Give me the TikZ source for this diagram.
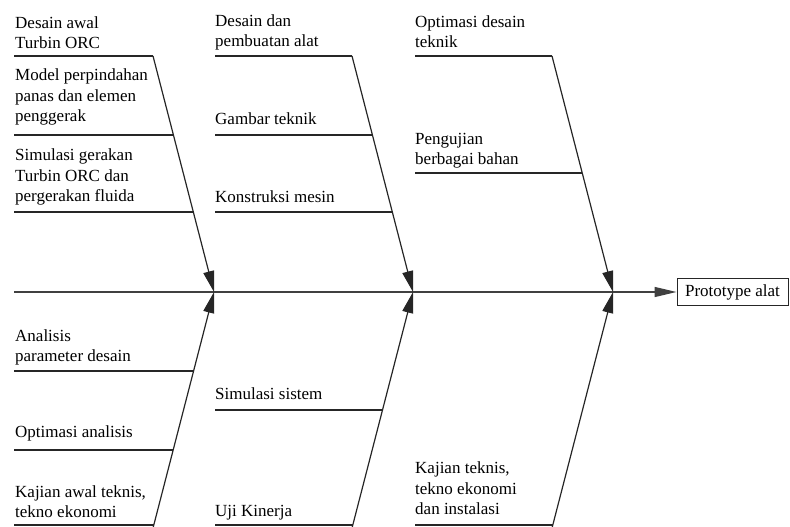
\documentclass[tikz,border=0pt]{standalone}
\usepackage{fontspec}
\setmainfont{Liberation Serif}
\usetikzlibrary{arrows.meta}
\begin{document}
\begin{tikzpicture}[x=1pt,y=-1pt,
  lbl/.style={anchor=south west, inner sep=0pt, align=left, font=\fontsize{17}{20.5}\selectfont},
  rib/.style={draw=black!85, line width=1.3pt},
  bone/.style={draw=black!85, line width=1.2pt, -{Triangle[length=21pt,width=11pt]}},
  spine/.style={draw=black!75, line width=1.4pt, -{Triangle[length=22pt,width=10pt]}},
  outbox/.style={draw=black!85, line width=1pt, minimum width=111pt, minimum height=27pt, inner sep=0pt, font=\fontsize{17}{20.5}\selectfont}]
\useasboundingbox (0,0) rectangle (790,527);

% bone end points
\coordinate (t1) at (153,56);  \coordinate (h1) at (214,292); \coordinate (u1) at (152.5,530);
\coordinate (t2) at (352,56);  \coordinate (h2) at (413,292); \coordinate (u2) at (351.5,530);
\coordinate (t3) at (552,56);  \coordinate (h3) at (613,292); \coordinate (u3) at (551.5,530);

% rib coordinates
\coordinate (a1) at (14,56);
\coordinate (a2) at (14,135);  \coordinate (e2) at (173.5,135);
\coordinate (a3) at (14,212);  \coordinate (e3) at (193.5,212);
\coordinate (a4) at (215,56);
\coordinate (a5) at (215,135); \coordinate (e5) at (372.5,135);
\coordinate (a6) at (215,212); \coordinate (e6) at (392.5,212);
\coordinate (a7) at (415,56);
\coordinate (a8) at (415,173); \coordinate (e8) at (582.4,173);
\coordinate (a9) at (14,371);  \coordinate (e9) at (193.7,371);
\coordinate (a10) at (14,450); \coordinate (e10) at (173.2,450);
\coordinate (a11) at (14,525); \coordinate (e11) at (153.7,525);
\coordinate (a12) at (215,410); \coordinate (e12) at (382.6,410);
\coordinate (a13) at (215,525); \coordinate (e13) at (352.7,525);
\coordinate (a14) at (415,525); \coordinate (e14) at (552.7,525);
\coordinate (s0) at (14,292);

% labels
\node[lbl] (l1) at (15,55) {Desain awal\\Turbin ORC\strut};
\node[lbl] (l2) at (15,128) {Model perpindahan\\panas dan elemen\\penggerak\strut};
\node[lbl] (l3) at (15,208) {Simulasi gerakan\\Turbin ORC dan\\pergerakan fluida\strut};
\node[lbl] (l4) at (215,53) {Desain dan\\pembuatan alat\strut};
\node[lbl] (l5) at (215,131) {Gambar teknik\strut};
\node[lbl] (l6) at (215,209) {Konstruksi mesin\strut};
\node[lbl] (l7) at (415,54) {Optimasi desain\\teknik\strut};
\node[lbl] (l8) at (415,171) {Pengujian\\berbagai bahan\strut};
\node[lbl] (l9) at (15,368) {Analisis\\parameter desain\strut};
\node[lbl] (l10) at (15,444) {Optimasi analisis\strut};
\node[lbl] (l11) at (15,524) {Kajian awal teknis,\\tekno ekonomi\strut};
\node[lbl] (l12) at (215,406) {Simulasi sistem\strut};
\node[lbl] (l13) at (215,523) {Uji Kinerja\strut};
\node[lbl] (l14) at (415,521) {Kajian teknis,\\tekno ekonomi\\dan instalasi\strut};

\node[outbox] (proto) at (732.5,292) {Prototype alat};

% ribs
\draw[rib] (a1) -- (t1);
\draw[rib] (a2) -- (e2);
\draw[rib] (a3) -- (e3);
\draw[rib] (a4) -- (t2);
\draw[rib] (a5) -- (e5);
\draw[rib] (a6) -- (e6);
\draw[rib] (a7) -- (t3);
\draw[rib] (a8) -- (e8);
\draw[rib] (a9) -- (e9);
\draw[rib] (a10) -- (e10);
\draw[rib] (a11) -- (e11);
\draw[rib] (a12) -- (e12);
\draw[rib] (a13) -- (e13);
\draw[rib] (a14) -- (e14);

% spine
\draw[spine] (s0) -- (proto.west);

% bones
\draw[bone] (t1) -- (h1);
\draw[bone] (u1) -- (h1);
\draw[bone] (t2) -- (h2);
\draw[bone] (u2) -- (h2);
\draw[bone] (t3) -- (h3);
\draw[bone] (u3) -- (h3);
\end{tikzpicture}
\end{document}
